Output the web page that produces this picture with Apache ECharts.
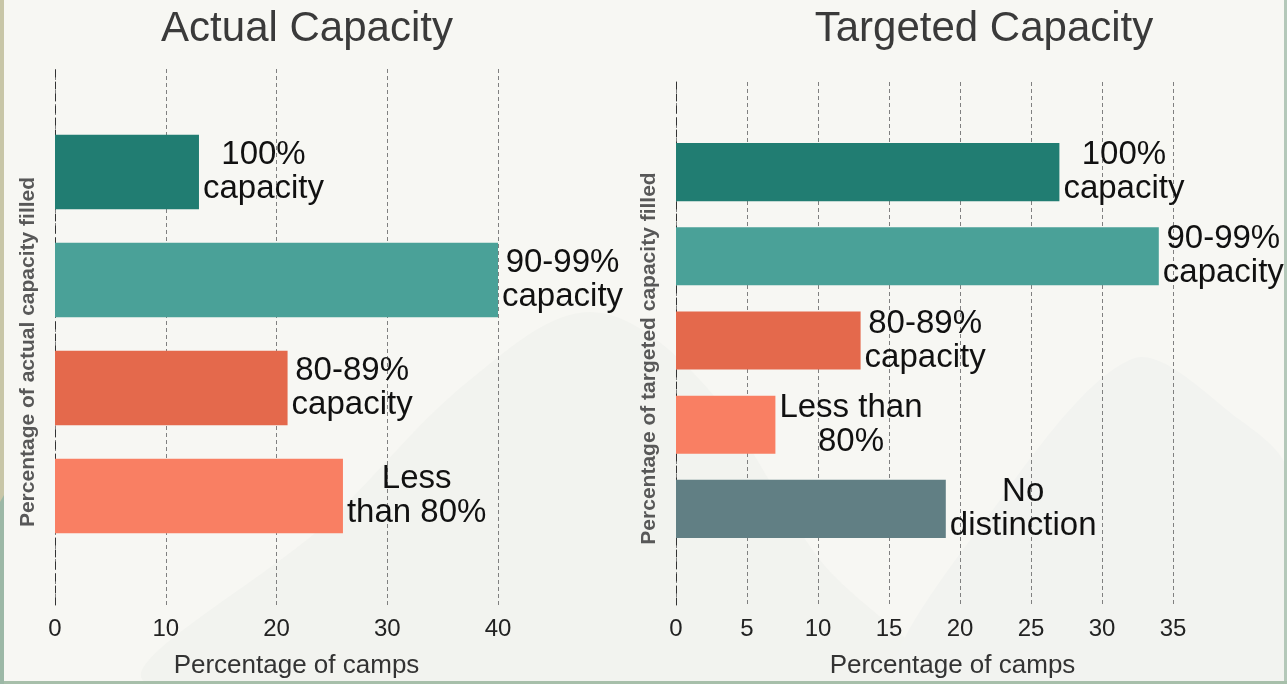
<!DOCTYPE html>
<html>
<head>
<meta charset="utf-8">
<script src="https://cdn.jsdelivr.net/npm/echarts@6/dist/echarts.min.js"></script>
<style>
  html, body { margin: 0; padding: 0; background: #f7f7f3; }
  #chart { width: 1287px; height: 684px; }
</style>
</head>
<body>
<div id="chart"></div>
<script>
// Share of camps by how much of their capacity is filled
const actualCategories = ['100%\ncapacity', '90-99%\ncapacity', '80-89%\ncapacity', 'Less\nthan 80%'];
const actualValues = [13, 40, 21, 26];

const targetCategories = ['100%\ncapacity', '90-99%\ncapacity', '80-89%\ncapacity', 'Less than\n80%', 'No\ndistinction'];
const targetValues = [27, 34, 13, 7, 19];

// Axis scales (min, max, step) for the two panels
const actualTicks = [0, 40, 10];
const targetTicks = [0, 35, 5];

const barColors = ['#217d72', '#4aa198', '#e4694c', '#f97f63', '#617f84'];

const SANS = '"Liberation Sans", Arial, Helvetica, sans-serif';
const LABEL_SIZE = 33;

// width of the widest line of a label, so the two lines can be centred on each other
const measureCtx = document.createElement('canvas').getContext('2d');
function blockWidth(text) {
  measureCtx.font = LABEL_SIZE + 'px ' + SANS;
  return Math.max.apply(null, text.split('\n').map(function (l) { return measureCtx.measureText(l).width; }));
}

function barData(categories, values) {
  return values.map(function (v, i) {
    return {
      value: v,
      itemStyle: { color: barColors[i] },
      label: { offset: [blockWidth(categories[i]) / 2, 0] }
    };
  });
}

function valueAxis(gridIndex, ticks, visible, namePad) {
  const axis = {
    gridIndex: gridIndex,
    type: 'value',
    min: ticks[0],
    max: ticks[1],
    interval: ticks[2],
    show: visible
  };
  if (visible) {
    Object.assign(axis, {
      axisLine: { show: false, onZero: false },
      axisTick: { show: false },
      splitLine: { show: true, lineStyle: { type: [4, 3], color: '#808080', width: 1 } },
      axisLabel: { fontFamily: SANS, fontSize: 24, color: '#222', margin: 12 },
      name: 'Percentage of camps',
      nameLocation: 'middle',
      nameGap: 48,
      nameTextStyle: { fontFamily: SANS, fontSize: 26, color: '#333', padding: [0, 0, 0, namePad] }
    });
  }
  return axis;
}

function zeroLineAxis(gridIndex) {
  return {
    gridIndex: gridIndex,
    type: 'value',
    min: 0,
    max: 1,
    axisLine: { show: true, lineStyle: { type: [7, 5], color: '#333', width: 1 } },
    axisTick: { show: false },
    axisLabel: { show: false },
    splitLine: { show: false }
  };
}

function categoryAxis(gridIndex, categories, title) {
  return {
    gridIndex: gridIndex,
    type: 'category',
    inverse: true,
    data: categories,
    axisLine: { show: false },
    axisTick: { show: false },
    axisLabel: { show: false },
    name: title,
    nameLocation: 'middle',
    nameRotate: 90,
    nameGap: 16,
    nameTextStyle: { fontFamily: SANS, fontWeight: 'bold', fontSize: 21, color: '#585858', padding: [0, 36, 0, 0] }
  };
}

function barSeries(axisIndex, categories, values) {
  return {
    type: 'bar',
    xAxisIndex: axisIndex,
    yAxisIndex: axisIndex,
    barCategoryGap: '31%',
    data: barData(categories, values),
    label: {
      show: true,
      position: 'right',
      distance: 4,
      align: 'center',
      formatter: function (p) { return p.name; },
      fontFamily: SANS,
      fontSize: LABEL_SIZE,
      lineHeight: 34,
      color: '#111'
    }
  };
}

const chart = echarts.init(document.getElementById('chart'), null, { renderer: 'canvas' });

chart.setOption({
  backgroundColor: '#f7f7f3',
  animation: false,
  title: [
    { text: 'Actual Capacity', left: 307, top: 8, textAlign: 'center', padding: 0,
      textStyle: { fontFamily: SANS, fontSize: 42, fontWeight: 'normal', color: '#3a3a3a' } },
    { text: 'Targeted Capacity', left: 984, top: 8, textAlign: 'center', padding: 0,
      textStyle: { fontFamily: SANS, fontSize: 42, fontWeight: 'normal', color: '#3a3a3a' } }
  ],
  grid: [
    // gridline frames
    { left: 55, top: 69, width: 443, height: 539 },
    // bar areas
    { left: 55, top: 118, width: 443, height: 432 },
    { left: 676, top: 82, width: 497, height: 526 },
    { left: 676, top: 130, width: 497, height: 421 }
  ],
  xAxis: [
    valueAxis(0, actualTicks, true, 40),
    valueAxis(1, actualTicks, false),
    valueAxis(2, targetTicks, true, 56),
    valueAxis(3, targetTicks, false)
  ],
  yAxis: [
    zeroLineAxis(0),
    categoryAxis(1, actualCategories, 'Percentage of actual capacity filled'),
    zeroLineAxis(2),
    categoryAxis(3, targetCategories, 'Percentage of targeted capacity filled')
  ],
  series: [
    barSeries(1, actualCategories, actualValues),
    barSeries(3, targetCategories, targetValues)
  ],
  graphic: [
    // soft hills in the backdrop
    { type: 'polygon', z: -100, silent: true,
      shape: { points: [[150, 684], [330, 520], [470, 380], [590, 312], [700, 380], [820, 560], [930, 684]], smooth: 0.35 },
      style: { fill: '#f2f3ef' } },
    { type: 'polygon', z: -100, silent: true,
      shape: { points: [[900, 684], [1000, 500], [1135, 358], [1240, 420], [1287, 470], [1287, 684]], smooth: 0.3 },
      style: { fill: '#f2f3f0' } },
    // frame edges
    { type: 'rect', z: -90, silent: true, shape: { x: 0, y: 0, width: 4, height: 684 }, style: { fill: '#c8c6a7' } },
    { type: 'polygon', z: -89, silent: true, shape: { points: [[0, 502], [4, 495], [4, 684], [0, 684]] }, style: { fill: '#9cb8a6' } },
    { type: 'rect', z: -90, silent: true, shape: { x: 1284, y: 0, width: 3, height: 684 }, style: { fill: '#b4c8b9' } },
    { type: 'rect', z: -90, silent: true, shape: { x: 0, y: 681, width: 1287, height: 3 }, style: { fill: '#a7bfaa' } }
  ]
});
</script>
</body>
</html>
